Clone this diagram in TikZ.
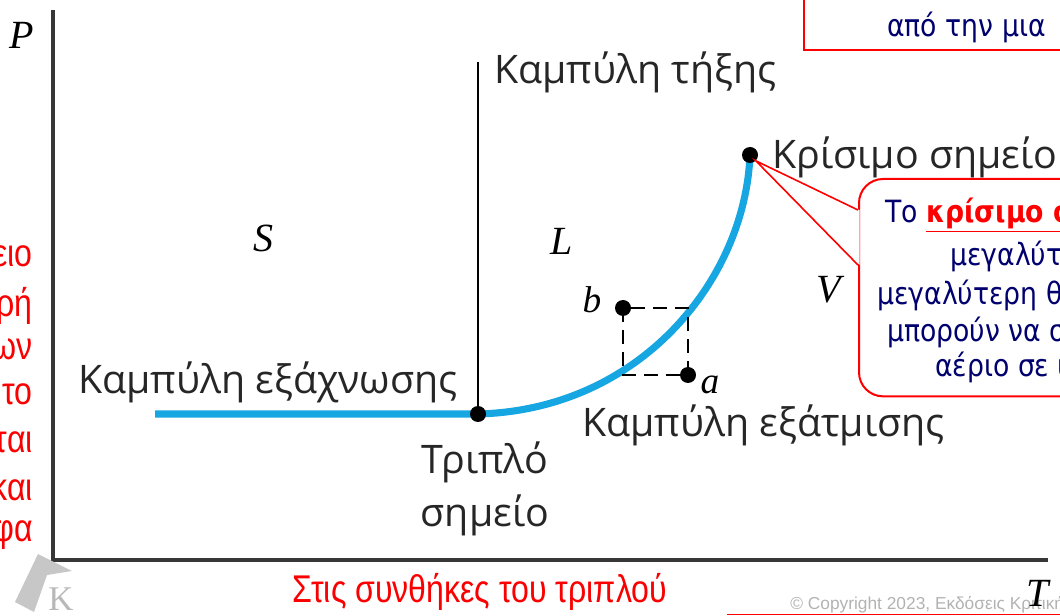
\documentclass[tikz,border=0pt]{standalone}
\usepackage{fontspec}
\setmainfont{Open Sans}
\newfontfamily\notefont[FakeStretch=0.87]{DejaVu Sans}
\newfontfamily\slidefont[FakeStretch=0.83]{Liberation Sans}
\newfontfamily\footfont{Liberation Sans}
\newfontfamily\varfont{Liberation Serif}
\usetikzlibrary{positioning}
\usetikzlibrary{calc}
\definecolor{curveblue}{RGB}{22,166,226}
\definecolor{notenavy}{RGB}{0,0,110}
\definecolor{axisgray}{RGB}{55,55,55}
\definecolor{slidered}{RGB}{250,0,0}

\begin{document}
\begin{tikzpicture}[x=0.75pt, y=-0.75pt, >=latex,
    curve/.style={line width=5.3pt, curveblue},
    pdot/.style={circle, fill=black, inner sep=0pt, minimum size=12pt},
    curvelabel/.style={font=\fontsize{29.5}{34}\selectfont, text=black!85, inner sep=0pt},
    phase/.style={font=\varfont\itshape\fontsize{30}{32}\selectfont, inner sep=0pt},
    sidenote/.style={font=\slidefont\fontsize{29}{32}\selectfont, text=slidered, inner sep=0pt},
    note/.style={font=\notefont\fontsize{23}{26}\selectfont, text=notenavy, inner sep=0pt, anchor=west},
    notebox/.style={draw=red, line width=1.5pt, fill=white}]
\useasboundingbox (0,0) rectangle (1060,616);
\begin{scope}
\clip (0,0) rectangle (1060,616);

% axes
\coordinate (origin) at (53,560);
\draw[axisgray, line width=2.3pt] (53,10) -- (origin) -- (1048,560);
\node[phase] (Paxis) at (22,35) {P};

% phase boundaries
\coordinate (tp) at (478,414);
\coordinate (cp) at (750,155);
\coordinate (sub) at (155,414);
\coordinate (melt) at (478,62);
\draw[line width=1.5pt] (tp) -- (melt);
\draw[curve] (sub) -- (tp) .. controls (640,410) and (745,280) .. (cp);
\node[pdot] (triple) at (tp) {};
\node[pdot] (crit) at (cp) {};

% regions
\node[phase] (S) at (263,238) {S};
\node[phase] (L) at (562,241) {L};
\node[phase] (V) at (829,290) {V};

% path a -> b
\node[pdot] (b) at (623,308) {};
\node[pdot] (a) at (688,375) {};
\draw[line width=1.5pt, dash pattern=on 10.5pt off 6pt] (b.center) |- (a.center);
\draw[line width=1.5pt, dash pattern=on 10.5pt off 6pt] (a.center) |- (b.center);
\node[phase, font=\varfont\itshape\fontsize{28}{30}\selectfont] (blbl) at (592,300) {b};
\node[phase, font=\varfont\itshape\fontsize{28}{30}\selectfont] (albl) at (710,385) {a};

% curve names
\node[curvelabel, anchor=west] (meltlbl) at (494,72) {Καμπύλη τήξης};
\node[curvelabel, anchor=west] (sublbl) at (78,382) {Καμπύλη εξάχνωσης};
\node[curvelabel, anchor=west] (vaplbl) at (582,425) {Καμπύλη εξάτμισης};
\node[curvelabel] (tplbl) at (485,462) {Τριπλό};
\node[curvelabel] (tplbl2) at (485,515) {σημείο};
\node[curvelabel, anchor=west] (cplbl) at (772,157) {Κρίσιμο σημείο};

% callout at the critical point
\node[notebox, rounded corners=18pt, minimum width=200pt, minimum height=163pt, anchor=north west] (note) at (858,178) {};
\coordinate (tipA) at ($(note.north west)+(0,32)$);
\coordinate (tipB) at ($(note.north west)+(0,87)$);
\fill[white] ($(tipA)+(1.5,0)$) -- (crit.south east) -- ($(tipB)+(1.5,0)$) -- cycle;
\draw[red, line width=1.2pt] (tipA) -- (crit.south east) -- (tipB);
\node[note] (n1) at (885,215) {Το \textcolor{red}{\textbf{\underline{κρίσιμο σημείο}}}};
\node[note] (n2) at (950,256) {μεγαλύτερη};
\node[note] (n3) at (877,295) {μεγαλύτερη θερμοκρασία};
\node[note] (n4) at (887,332) {μπορούν να συνυπάρχουν};
\node[note] (n5) at (935,367) {αέριο σε ισορροπία};

% callout at the top
\node[notebox, minimum width=220pt, minimum height=80pt, anchor=south west] (topnote) at (803,51) {};
\node[note] (t1) at (887,27) {από την μια};

% side text, cut by the page
\foreach \txt/\yy [count=\i] in {ειο/256, ρή/306, ων/349, το/394, ται/442, και/490, φα/535} {
    \node[sidenote, anchor=east] (side\i) at (33,\yy) {\txt};
}
\node[sidenote] (cond) at (480,592) {Στις συνθήκες του τριπλού};

% footer
\fill[black!22] (38,554) -- (72,571) -- (47,575) -- (34,612) -- (15,602) -- cycle;
\node[font=\varfont\fontsize{26}{28}\selectfont, text=black!28, inner sep=0pt] (logo) at (61,599) {K};
\node[font=\footfont\fontsize{13}{15}\selectfont, text=black!30, inner sep=0pt, anchor=west] (copy) at (790,605) {© Copyright 2023, Εκδόσεις Κριτική};
\draw[red, line width=1.2pt] (727,614.5) -- (1060,614.5);
\node[phase] (Taxis) at (1038,593) {T};
\end{scope}
\end{tikzpicture}
\end{document}
